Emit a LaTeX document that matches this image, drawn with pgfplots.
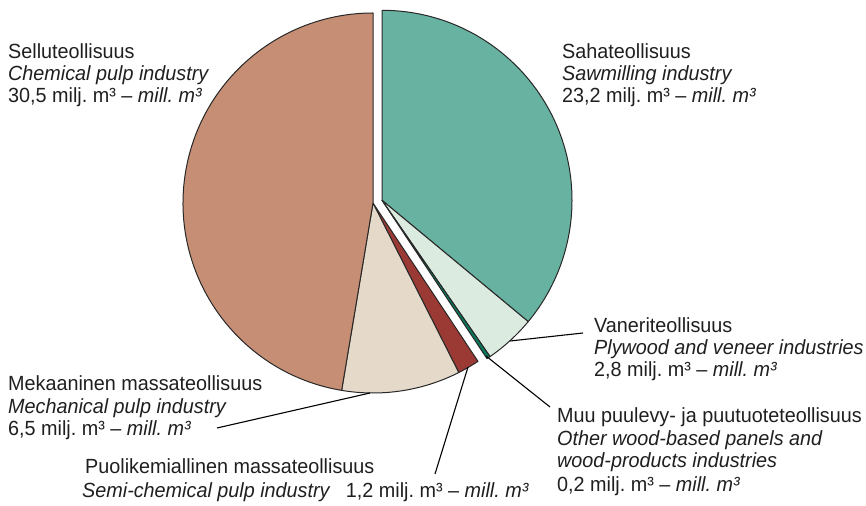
\documentclass[border=0pt]{standalone}
\usepackage{pgfplots}
\usepackage{pgfplotstable}
\pgfplotsset{compat=1.18}
\usepackage{fontspec}
\setmainfont{Liberation Sans}[FakeStretch=0.965]
\newcommand\lab{\fontsize{20.5bp}{22bp}\selectfont}

\definecolor{csellu}{RGB}{198,143,117}
\definecolor{csaha}{RGB}{104,178,162}
\definecolor{cvaneri}{RGB}{220,235,224}
\definecolor{cmuu}{RGB}{10,120,90}
\definecolor{cpuoli}{RGB}{155,58,52}
\definecolor{cmeka}{RGB}{229,217,201}
\definecolor{cedge}{RGB}{40,40,40}

% wood consumption by industry, million m3
\pgfplotstableread{
label value
Saha 23.2
Vaneri 2.8
Muu 0.2
Puolikem 1.2
Mekaaninen 6.5
Sellu 30.5
}\piedata

\pgfplotstablegetelem{0}{value}\of\piedata \let\vA\pgfplotsretval
\pgfplotstablegetelem{1}{value}\of\piedata \let\vB\pgfplotsretval
\pgfplotstablegetelem{2}{value}\of\piedata \let\vC\pgfplotsretval
\pgfplotstablegetelem{3}{value}\of\piedata \let\vD\pgfplotsretval
\pgfplotstablegetelem{4}{value}\of\piedata \let\vE\pgfplotsretval
\pgfplotstablegetelem{5}{value}\of\piedata \let\vF\pgfplotsretval
\pgfmathsetmacro\tot{\vA+\vB+\vC+\vD+\vE+\vF}
\pgfmathsetmacro\aA{90}
\pgfmathsetmacro\aB{\aA-360*\vA/\tot}
\pgfmathsetmacro\aC{\aB-360*\vB/\tot}
\pgfmathsetmacro\aD{\aC-360*\vC/\tot}
\pgfmathsetmacro\aE{\aD-360*\vD/\tot}
\pgfmathsetmacro\aF{\aE-360*\vE/\tot}
\pgfmathsetmacro\aG{\aF-360*\vF/\tot}
% centres: right group exploded
\def\R{190}
\def\cxR{382}\def\cyR{305.7}
\def\cxL{373}\def\cyL{303}
\pgfmathsetmacro\sAx{\cxR+\R*cos(\aA)}\pgfmathsetmacro\sAy{\cyR+\R*sin(\aA)}
\pgfmathsetmacro\sBx{\cxR+\R*cos(\aB)}\pgfmathsetmacro\sBy{\cyR+\R*sin(\aB)}
\pgfmathsetmacro\sCx{\cxR+\R*cos(\aC)}\pgfmathsetmacro\sCy{\cyR+\R*sin(\aC)}
\pgfmathsetmacro\sDx{\cxL+\R*cos(\aD)}\pgfmathsetmacro\sDy{\cyL+\R*sin(\aD)}
\pgfmathsetmacro\sEx{\cxL+\R*cos(\aE)}\pgfmathsetmacro\sEy{\cyL+\R*sin(\aE)}
\pgfmathsetmacro\sFx{\cxL+\R*cos(\aF)}\pgfmathsetmacro\sFy{\cyL+\R*sin(\aF)}

\begin{document}
\begin{tikzpicture}
\begin{axis}[
  at={(0,0)}, anchor=south west,
  width=866bp, height=506bp, scale only axis,
  xmin=0, xmax=866, ymin=0, ymax=506,
  enlargelimits=false, hide axis, clip=false,
]
\tikzset{slice/.style={draw=cedge, line width=1bp, line join=round}}
\filldraw[slice, fill=csaha] (axis cs:\cxR,\cyR) -- (axis cs:\sAx,\sAy) arc[start angle=\aA, end angle=\aB, radius=\R bp] -- cycle;
\filldraw[slice, fill=cvaneri] (axis cs:\cxR,\cyR) -- (axis cs:\sBx,\sBy) arc[start angle=\aB, end angle=\aC, radius=\R bp] -- cycle;
\filldraw[slice, fill=cmuu] (axis cs:\cxR,\cyR) -- (axis cs:\sCx,\sCy) arc[start angle=\aC, end angle=\aD, radius=\R bp] -- cycle;
\filldraw[slice, fill=cpuoli] (axis cs:\cxL,\cyL) -- (axis cs:\sDx,\sDy) arc[start angle=\aD, end angle=\aE, radius=\R bp] -- cycle;
\filldraw[slice, fill=cmeka] (axis cs:\cxL,\cyL) -- (axis cs:\sEx,\sEy) arc[start angle=\aE, end angle=\aF, radius=\R bp] -- cycle;
\filldraw[slice, fill=csellu] (axis cs:\cxL,\cyL) -- (axis cs:\sFx,\sFy) arc[start angle=\aF, end angle=\aG, radius=\R bp] -- cycle;

% leader lines
\addplot[black, no markers, line width=1.1bp] coordinates {(510,165) (583,173)};
\addplot[black, no markers, line width=1.1bp] coordinates {(486,150) (550,99)};
\addplot[black, no markers, line width=1.1bp] coordinates {(217,78) (370,113)};
\addplot[black, no markers, line width=1.1bp] coordinates {(468,139) (435,32)};

% labels
\tikzset{lb/.style={anchor=base west, inner sep=0pt, font=\lab, text=black!88}}
\node[lb] at (axis cs:8,447) {Selluteollisuus};
\node[lb] at (axis cs:8,425) {\itshape Chemical pulp industry};
\node[lb] at (axis cs:8,403) {30,5 milj.\ m³ – \textit{mill.\ m³}};

\node[lb] at (axis cs:562,447) {Sahateollisuus};
\node[lb] at (axis cs:562,425) {\itshape Sawmilling industry};
\node[lb] at (axis cs:562,403) {23,2 milj.\ m³ – \textit{mill.\ m³}};

\node[lb] at (axis cs:594,173) {Vaneriteollisuus};
\node[lb] at (axis cs:594,151) {\itshape Plywood and veneer industries};
\node[lb] at (axis cs:594,129) {2,8 milj.\ m³ – \textit{mill.\ m³}};

\node[lb] at (axis cs:557,83) {Muu puulevy- ja puutuoteteollisuus};
\node[lb] at (axis cs:557,60) {\itshape Other wood-based panels and};
\node[lb] at (axis cs:557,38) {\itshape wood-products industries};
\node[lb] at (axis cs:557,15) {0,2 milj.\ m³ – \textit{mill.\ m³}};

\node[lb] at (axis cs:8,115) {Mekaaninen massateollisuus};
\node[lb] at (axis cs:8,92) {\itshape Mechanical pulp industry};
\node[lb] at (axis cs:8,70) {6,5 milj.\ m³ – \textit{mill.\ m³}};

\node[lb] at (axis cs:85,32) {Puolikemiallinen massateollisuus};
\node[lb] at (axis cs:82,9) {\textit{Semi-chemical pulp industry}\hspace{0.75em}1,2 milj.\ m³ – \textit{mill.\ m³}};
\end{axis}
\pgfresetboundingbox
\useasboundingbox (0,0) rectangle (866bp,506bp);
\end{tikzpicture}
\end{document}
